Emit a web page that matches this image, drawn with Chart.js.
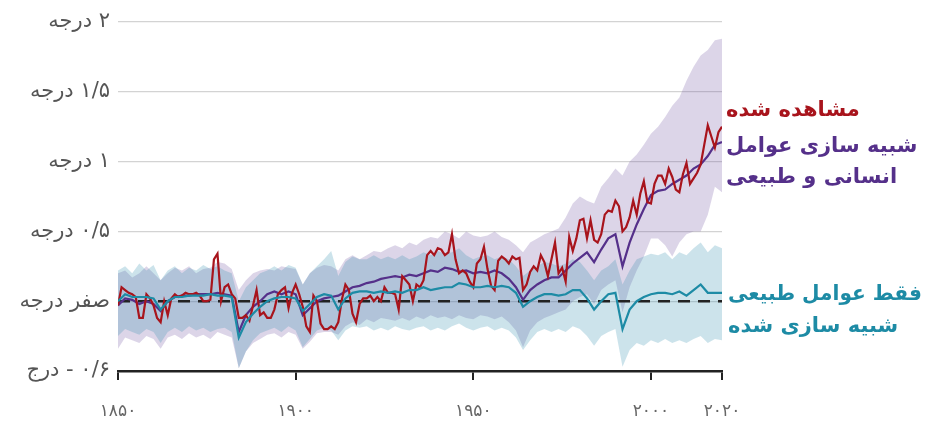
<!DOCTYPE html>
<html lang="fa">
<head>
<meta charset="utf-8">
<script src="https://cdn.jsdelivr.net/npm/chart.js@4.4.1/dist/chart.umd.min.js"></script>
<style>
  html, body { margin: 0; padding: 0; background: #fff; }
  canvas { display: block; }
</style>
</head>
<body>
<canvas id="chart" width="925" height="426" dir="rtl"></canvas>
<script>
// observed, annual 1850-2020
const obsStart = 1850;
const observed = [
  -0.03, 0.10, 0.08, 0.06, 0.05, 0.03, -0.12, -0.12, 0.05, 0.02,
  -0.03, -0.12, -0.15, 0.00, -0.10, 0.02, 0.05, 0.03, 0.04, 0.06,
  0.05, 0.05, 0.06, 0.04, 0.00, 0.00, 0.01, 0.30, 0.34, 0.00,
  0.10, 0.12, 0.05, 0.02, -0.12, -0.12, -0.10, -0.14, -0.03, 0.08,
  -0.10, -0.08, -0.12, -0.12, -0.06, 0.05, 0.08, 0.10, -0.05, 0.06,
  0.12, 0.05, -0.04, -0.18, -0.22, 0.04, 0.00, -0.16, -0.20, -0.20,
  -0.18, -0.20, -0.15, 0.01, 0.12, 0.08, -0.09, -0.15, -0.02, 0.02,
  0.02, 0.04, 0.00, 0.03, 0.00, 0.10, 0.06, 0.06, 0.05, -0.06,
  0.18, 0.15, 0.12, 0.00, 0.12, 0.10, 0.15, 0.33, 0.36, 0.33,
  0.38, 0.37, 0.33, 0.35, 0.48, 0.30, 0.20, 0.22, 0.20, 0.14,
  0.10, 0.27, 0.30, 0.39, 0.23, 0.11, 0.08, 0.29, 0.32, 0.30,
  0.27, 0.32, 0.30, 0.31, 0.08, 0.12, 0.21, 0.25, 0.22, 0.33,
  0.28, 0.18, 0.30, 0.42, 0.20, 0.24, 0.14, 0.46, 0.36, 0.45,
  0.58, 0.59, 0.45, 0.58, 0.44, 0.42, 0.48, 0.62, 0.65, 0.64,
  0.72, 0.68, 0.50, 0.53, 0.60, 0.72, 0.62, 0.77, 0.86, 0.71,
  0.70, 0.84, 0.90, 0.90, 0.84, 0.95, 0.89, 0.80, 0.78, 0.91,
  0.99, 0.84, 0.88, 0.92, 0.98, 1.12, 1.26, 1.18, 1.10, 1.21,
  1.25
];

// simulations, every 2 years 1850-2020
const simStart = 1850;
const simStep = 2;
const humanMean = [
  -0.03, 0.02, 0.01, -0.02, 0.00, -0.02, -0.07, 0.00, 0.03, 0.04,
  0.04, 0.05, 0.05, 0.05, 0.06, 0.05, 0.04, -0.22, -0.10, -0.04,
  0.00, 0.05, 0.07, 0.05, 0.07, 0.05, -0.10, -0.05, 0.00, 0.02,
  0.03, 0.04, 0.07, 0.10, 0.11, 0.13, 0.14, 0.16, 0.17, 0.18,
  0.17, 0.19, 0.18, 0.20, 0.22, 0.21, 0.24, 0.23, 0.21, 0.22,
  0.20, 0.21, 0.20, 0.22, 0.20, 0.16, 0.10, 0.01, 0.08, 0.12,
  0.15, 0.17, 0.17, 0.22, 0.27, 0.31, 0.35, 0.28, 0.37, 0.45,
  0.48, 0.25, 0.42, 0.55, 0.66, 0.76, 0.79, 0.80, 0.84, 0.87,
  0.90, 0.95, 0.98, 1.04, 1.12, 1.14
];
const humanLow = [
  -0.34, -0.26, -0.28, -0.30, -0.25, -0.27, -0.34, -0.26, -0.24, -0.27,
  -0.23, -0.26, -0.24, -0.27, -0.22, -0.24, -0.26, -0.48, -0.36, -0.30,
  -0.27, -0.24, -0.23, -0.26, -0.22, -0.24, -0.34, -0.29, -0.23, -0.22,
  -0.22, -0.24, -0.18, -0.15, -0.17, -0.13, -0.15, -0.12, -0.13, -0.14,
  -0.12, -0.14, -0.11, -0.13, -0.10, -0.12, -0.11, -0.13, -0.10, -0.12,
  -0.13, -0.10, -0.11, -0.13, -0.11, -0.15, -0.21, -0.33, -0.21, -0.15,
  -0.12, -0.10, -0.08, -0.06, 0.00, 0.03, 0.05, -0.02, 0.08, 0.12,
  0.15, -0.08, 0.10, 0.22, 0.32, 0.45, 0.45, 0.40, 0.32, 0.42,
  0.48, 0.50, 0.50, 0.62, 0.82, 0.78
];
const humanHigh = [
  0.20, 0.22, 0.17, 0.20, 0.25, 0.20, 0.15, 0.20, 0.24, 0.22,
  0.25, 0.20, 0.23, 0.24, 0.28, 0.27, 0.23, 0.08, 0.15, 0.20,
  0.22, 0.23, 0.22, 0.25, 0.24, 0.23, 0.12, 0.20, 0.24, 0.26,
  0.25, 0.22, 0.30, 0.33, 0.30, 0.33, 0.36, 0.35, 0.38, 0.40,
  0.38, 0.42, 0.40, 0.44, 0.46, 0.45, 0.50, 0.48, 0.45, 0.50,
  0.47, 0.46, 0.47, 0.50, 0.46, 0.44, 0.40, 0.35, 0.42, 0.45,
  0.48, 0.50, 0.52, 0.60, 0.70, 0.75, 0.72, 0.70, 0.82, 0.88,
  0.95, 0.90, 1.00, 1.05, 1.12, 1.20, 1.25, 1.32, 1.40, 1.46,
  1.58, 1.68, 1.76, 1.80, 1.87, 1.88
];
const naturalMean = [
  0.00, 0.05, 0.03, 0.03, 0.03, 0.02, -0.06, 0.00, 0.03, 0.03,
  0.04, 0.04, 0.04, 0.05, 0.04, 0.04, 0.03, -0.26, -0.15, -0.09,
  -0.04, 0.00, 0.02, 0.03, 0.03, 0.02, -0.07, -0.02, 0.03, 0.05,
  0.04, -0.06, 0.02, 0.06, 0.07, 0.07, 0.06, 0.07, 0.06, 0.07,
  0.06, 0.08, 0.08, 0.10, 0.08, 0.09, 0.10, 0.10, 0.13, 0.12,
  0.10, 0.10, 0.11, 0.10, 0.11, 0.10, 0.06, -0.04, 0.00, 0.03,
  0.05, 0.05, 0.04, 0.05, 0.08, 0.08, 0.02, -0.06, 0.00, 0.05,
  0.06, -0.20, -0.06, 0.00, 0.03, 0.05, 0.06, 0.06, 0.05, 0.07,
  0.04, 0.08, 0.12, 0.06, 0.06, 0.06
];
const naturalLow = [
  -0.25, -0.20, -0.22, -0.24, -0.20, -0.22, -0.30, -0.22, -0.19, -0.22,
  -0.18, -0.21, -0.19, -0.22, -0.20, -0.19, -0.22, -0.48, -0.36, -0.28,
  -0.23, -0.21, -0.19, -0.22, -0.18, -0.21, -0.33, -0.27, -0.21, -0.19,
  -0.21, -0.28, -0.21, -0.18, -0.19, -0.18, -0.21, -0.19, -0.21, -0.18,
  -0.20, -0.21, -0.19, -0.18, -0.21, -0.19, -0.21, -0.18, -0.16, -0.19,
  -0.21, -0.19, -0.18, -0.21, -0.19, -0.21, -0.26, -0.35, -0.28, -0.22,
  -0.20, -0.22, -0.20, -0.22, -0.18, -0.20, -0.25, -0.32, -0.25, -0.22,
  -0.20, -0.47, -0.35, -0.30, -0.32, -0.28, -0.30, -0.27, -0.30, -0.28,
  -0.30, -0.27, -0.25, -0.30, -0.27, -0.28
];
const naturalHigh = [
  0.22, 0.25, 0.20, 0.27, 0.22, 0.26, 0.15, 0.22, 0.25, 0.20,
  0.24, 0.22, 0.26, 0.23, 0.25, 0.22, 0.20, 0.00, 0.10, 0.15,
  0.20, 0.22, 0.25, 0.22, 0.26, 0.24, 0.12, 0.20, 0.25, 0.30,
  0.36, 0.18, 0.28, 0.32, 0.30, 0.30, 0.33, 0.30, 0.32, 0.30,
  0.33, 0.30, 0.32, 0.35, 0.33, 0.36, 0.34, 0.35, 0.38, 0.33,
  0.30, 0.32, 0.33, 0.30, 0.32, 0.30, 0.25, 0.18, 0.22, 0.25,
  0.28, 0.27, 0.25, 0.27, 0.30, 0.28, 0.22, 0.15, 0.22, 0.25,
  0.30, 0.12, 0.22, 0.30, 0.32, 0.34, 0.33, 0.35, 0.30, 0.35,
  0.33, 0.38, 0.42, 0.35, 0.40, 0.38
];

const xTickYears = [1850, 1900, 1950, 2000, 2020];
const xTickLabels = ['۱۸۵۰', '۱۹۰۰', '۱۹۵۰', '۲۰۰۰', '۲۰۲۰'];
const yTickValues = [-0.5, 0, 0.5, 1, 1.5, 2];
const yTickLabels = ['۰/۶ - درج', 'صفر درجه', '۰/۵ درجه', '۱ درجه', '۱/۵ درجه', '۲ درجه'];

const labelObserved = ['مشاهده شده'];
const labelHuman = ['شبیه سازی عوامل', 'انسانی و طبیعی'];
const labelNatural = ['فقط عوامل طبیعی', 'شبیه سازی شده'];

const colors = {
  observed: '#a8141c',
  human: '#55308a',
  natural: '#1d8ba5',
  humanBand: 'rgba(110, 80, 160, 0.24)',
  naturalBand: 'rgba(40, 140, 170, 0.24)'
};

const annual = (vals, start) => vals.map((v, i) => ({ x: start + i, y: v }));
const everyStep = (vals) => vals.map((v, i) => ({ x: simStart + i * simStep, y: v }));

const FONT = '"DejaVu Sans", sans-serif';

const extras = {
  id: 'extras',
  beforeDatasetDraw(chart, args) {
    if (args.index !== 4) return;
    const { ctx, chartArea } = chart;
    const y = chart.scales.y.getPixelForValue(0);
    ctx.save();
    ctx.strokeStyle = '#222';
    ctx.lineWidth = 2.5;
    ctx.setLineDash([12, 8]);
    ctx.beginPath();
    ctx.moveTo(chartArea.left, y);
    ctx.lineTo(chartArea.right, y);
    ctx.stroke();
    ctx.restore();
  },
  afterDraw(chart) {
    const { ctx, chartArea } = chart;
    const x = chartArea.right + 4;
    const maxW = chart.width - x - 3;
    ctx.save();
    ctx.direction = 'rtl';
    ctx.textAlign = 'left';
    ctx.textBaseline = 'middle';
    ctx.font = 'bold 21px ' + FONT;
    ctx.fillStyle = colors.observed;
    labelObserved.forEach((t, i) => ctx.fillText(t, x, 111 + i * 31, maxW));
    ctx.fillStyle = colors.human;
    labelHuman.forEach((t, i) => ctx.fillText(t, x, 147 + i * 31, maxW));
    ctx.fillStyle = colors.natural;
    labelNatural.forEach((t, i) => ctx.fillText(t, x + 2, 295 + i * 32, maxW - 2));
    ctx.restore();
  }
};

new Chart(document.getElementById('chart'), {
  type: 'line',
  data: {
    datasets: [
      {
        data: everyStep(naturalHigh), fill: '+1', backgroundColor: colors.naturalBand,
        borderWidth: 0, pointRadius: 0, order: 5
      },
      {
        data: everyStep(naturalLow), fill: false, borderWidth: 0, pointRadius: 0, order: 5
      },
      {
        data: everyStep(humanHigh), fill: '+1', backgroundColor: colors.humanBand,
        borderWidth: 0, pointRadius: 0, order: 6
      },
      {
        data: everyStep(humanLow), fill: false, borderWidth: 0, pointRadius: 0, order: 6
      },
      {
        label: 'human', data: everyStep(humanMean), borderColor: colors.human,
        borderWidth: 2.2, pointRadius: 0, fill: false, order: 3
      },
      {
        label: 'observed', data: annual(observed, obsStart), borderColor: colors.observed,
        borderWidth: 2.2, pointRadius: 0, fill: false, order: 2
      },
      {
        label: 'natural', data: everyStep(naturalMean), borderColor: colors.natural,
        borderWidth: 2.2, pointRadius: 0, fill: false, order: 1
      }
    ]
  },
  options: {
    responsive: false,
    animation: false,
    devicePixelRatio: 1,
    layout: { padding: { left: 0, right: 203, top: 22, bottom: 0 } },
    plugins: { legend: { display: false }, tooltip: { enabled: false } },
    elements: { line: { tension: 0 } },
    scales: {
      x: {
        type: 'linear',
        min: 1850,
        max: 2020,
        afterBuildTicks: (scale) => { scale.ticks = xTickYears.map(v => ({ value: v })); },
        afterFit: (scale) => { scale.height = 55; },
        grid: { drawOnChartArea: false, drawTicks: true, tickLength: 9, color: '#222', lineWidth: 2 },
        border: { display: true, color: '#222', width: 2.5 },
        ticks: {
          padding: 21,
          color: '#666',
          font: { family: FONT, size: 17 },
          maxRotation: 0,
          callback: (v, i) => xTickLabels[i]
        }
      },
      y: {
        min: -0.5,
        max: 2,
        afterBuildTicks: (scale) => { scale.ticks = yTickValues.map(v => ({ value: v })); },
        afterFit: (scale) => { scale.width = 118; },
        grid: {
          drawTicks: false,
          color: (c) => c.tick && c.tick.value === -0.5 ? 'rgba(0,0,0,0)' : '#d3d3d3',
          lineWidth: 1.2
        },
        border: { display: false },
        ticks: {
          padding: 8,
          color: '#555',
          font: { family: FONT, size: 21 },
          callback: (v, i) => yTickLabels[i]
        }
      }
    }
  },
  plugins: [extras]
});
</script>
</body>
</html>
